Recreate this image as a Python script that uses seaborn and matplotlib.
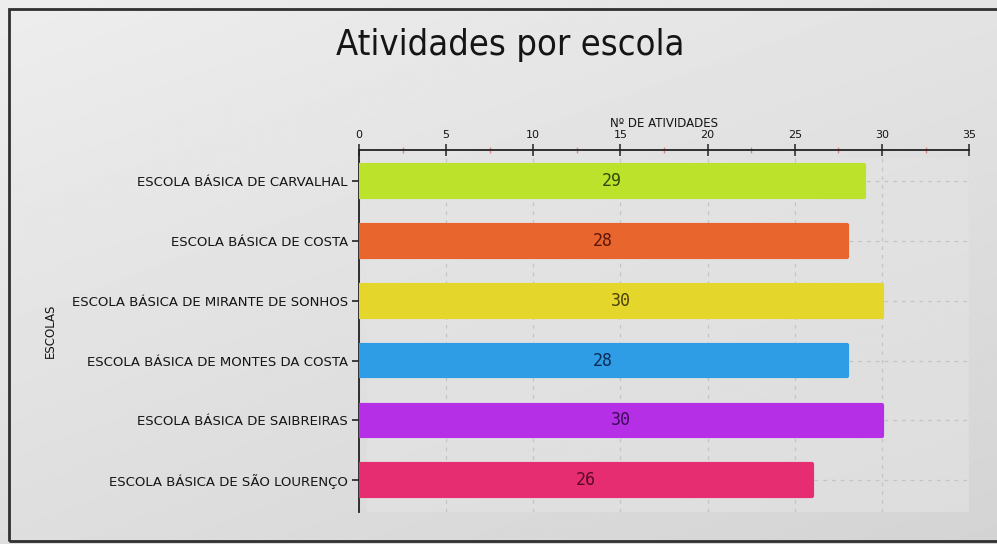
import numpy as np
import pandas as pd
import matplotlib
matplotlib.use("Agg")
import matplotlib.pyplot as plt
import seaborn as sns
from matplotlib.patches import Rectangle
from matplotlib.ticker import MultipleLocator

escolas = [
    "ESCOLA BÁSICA DE CARVALHAL",
    "ESCOLA BÁSICA DE COSTA",
    "ESCOLA BÁSICA DE MIRANTE DE SONHOS",
    "ESCOLA BÁSICA DE MONTES DA COSTA",
    "ESCOLA BÁSICA DE SAIBREIRAS",
    "ESCOLA BÁSICA DE SÃO LOURENÇO",
]
atividades = [29, 28, 30, 28, 30, 26]
bar_colors = ["#bce22c", "#e8652d", "#e5d62b", "#2f9ce6", "#b42fe6", "#e62d72"]
text_colors = ["#2f4a08", "#5a1608", "#4a4208", "#0b2a55", "#3c0a55", "#5a0a25"]
x_ticks = [0, 5, 10, 15, 20, 25, 30, 35]

sns.set_theme(style="white")
plt.rcParams['font.family'] = ['DejaVu Sans']

df = pd.DataFrame({"escola": escolas, "n": atividades})

fig = plt.figure(figsize=(9.97, 5.44), dpi=100)
# background gradient
bg = fig.add_axes([0, 0, 1, 1], zorder=-10)
grad = np.linspace(0, 1, 256)
gx, gy = np.meshgrid(grad, grad)
g = 0.93 - 0.10 * (0.6 * gy + 0.4 * gx)
bg.imshow(g, cmap="gray", vmin=0, vmax=1, aspect="auto", extent=[0, 1, 0, 1], origin="upper")
bg.set_axis_off()

ax = fig.add_axes([0.360, 0.059, 0.612, 0.665])
ax.set_facecolor("none")

sns.barplot(data=df, y="escola", x="n", hue="escola", palette=bar_colors,
            orient="h", width=0.53, ax=ax, legend=False, zorder=3, saturation=1)
for p, c in zip(list(ax.patches), bar_colors):
    p.set_edgecolor(c)
    p.set_linewidth(3)
    p.set_joinstyle("round")

# lighter plot panel
ax.add_patch(Rectangle((0.013, 0.0), 0.997, 0.978, transform=ax.transAxes,
                       facecolor="#e4e4e4", edgecolor="none", zorder=0, alpha=0.6))

for i, (v, tc) in enumerate(zip(atividades, text_colors)):
    ax.text(v / 2, i, str(v), ha="center", va="center", fontsize=12,
            color=tc, zorder=4, family="DejaVu Sans Mono")

ax.set_xlim(0, 35)
ax.set_ylim(5.53, -0.52)
ax.xaxis.tick_top()
ax.xaxis.set_label_position("top")
ax.set_xticks(x_ticks)
ax.set_xticklabels([str(t) for t in x_ticks], fontsize=8)
ax.xaxis.set_minor_locator(MultipleLocator(2.5))
ax.tick_params(axis="x", which="major", direction="inout", length=9, width=1.2,
               color="#333333", pad=3, top=True, bottom=False)
ax.tick_params(axis="x", which="minor", direction="inout", length=5, width=1,
               color="#e08888", top=True, bottom=False)
ax.tick_params(axis="y", which="major", direction="inout", length=10, width=1.2,
               color="#222222", pad=3, left=True, labelsize=9.5)
for lab in ax.get_yticklabels() + ax.get_xticklabels():
    lab.set_color("#151515")
ax.set_xlabel("Nº DE ATIVIDADES", fontsize=8.5, labelpad=2, color="#151515")
ax.set_ylabel("ESCOLAS", fontsize=8.5, color="#151515")
ax.yaxis.set_label_coords(-0.495, 0.5)

ax.grid(True, axis="both", which="major", color="#c4c4c4", linestyle=(0, (3, 4)),
        linewidth=0.9, zorder=1)
ax.set_axisbelow(True)

for s in ["right", "bottom"]:
    ax.spines[s].set_visible(False)
for s in ["top", "left"]:
    ax.spines[s].set_visible(True)
    ax.spines[s].set_color("#222222")
    ax.spines[s].set_linewidth(1.3)

fig.text(0.512, 0.917, "Atividades por escola", ha="center", va="center",
         fontsize=26, color="#151515", family="DejaVu Sans", fontstretch="condensed")

fig.patches.append(Rectangle((9 / 997, 3 / 544), 1.2, 532 / 544, transform=fig.transFigure,
                             facecolor="none", edgecolor="#303030", linewidth=2))

fig.savefig("out.png", dpi=100)
